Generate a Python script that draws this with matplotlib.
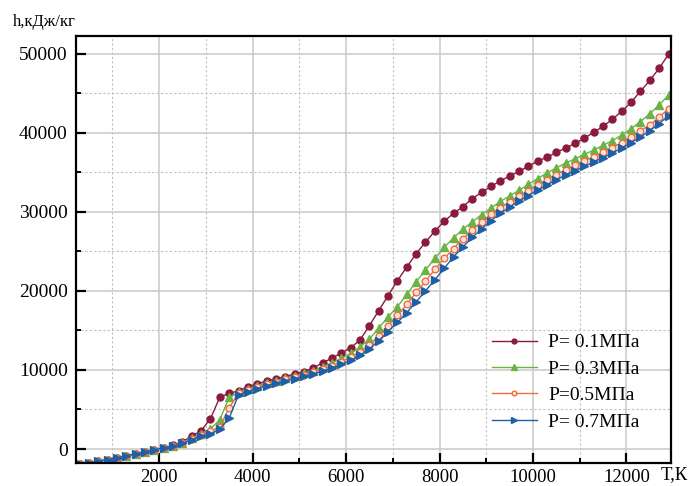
import matplotlib
matplotlib.use("Agg")
import matplotlib.pyplot as plt
from matplotlib.ticker import MultipleLocator

plt.rcParams['font.family'] = ['Liberation Serif', 'DejaVu Serif']

# Temperature grid, K
T = [300, 500, 700, 900, 1100, 1300, 1500, 1700, 1900, 2100,
     2300, 2500, 2700, 2900, 3100, 3300, 3500, 3700, 3900, 4100,
     4300, 4500, 4700, 4900, 5100, 5300, 5500, 5700, 5900, 6100,
     6300, 6500, 6700, 6900, 7100, 7300, 7500, 7700, 7900, 8100,
     8300, 8500, 8700, 8900, 9100, 9300, 9500, 9700, 9900, 10100,
     10300, 10500, 10700, 10900, 11100, 11300, 11500, 11700, 11900, 12100,
     12300, 12500, 12700, 12900]

# Enthalpy h, kJ/kg, for each pressure
h_01 = [-1950, -1730, -1550, -1330, -1100, -850, -600, -340, -90, 160,
        450, 900, 1650, 2300, 3850, 6550, 7050, 7350, 7900, 8250,
        8600, 8900, 9150, 9500, 9800, 10250, 10900, 11500, 12150, 12800,
        13800, 15600, 17500, 19400, 21300, 23000, 24700, 26150, 27550, 28800,
        29800, 30650, 31650, 32450, 33200, 33900, 34500, 35100, 35750, 36400,
        36900, 37500, 38050, 38650, 39300, 40050, 40800, 41700, 42700, 43850,
        45250, 46600, 48150, 49900]

h_03 = [-1950, -1730, -1550, -1330, -1100, -850, -600, -340, -90, 160,
        400, 800, 1350, 1950, 2550, 3700, 6550, 7150, 7600, 8000,
        8350, 8650, 8950, 9250, 9550, 9900, 10400, 10900, 11450, 12100,
        12900, 13900, 15300, 16700, 18000, 19550, 21150, 22650, 24100, 25500,
        26700, 27800, 28700, 29650, 30450, 31300, 32000, 32700, 33450, 34200,
        34900, 35550, 36150, 36700, 37250, 37800, 38400, 39000, 39700, 40500,
        41400, 42400, 43500, 44750]

h_05 = [-1950, -1730, -1550, -1330, -1100, -850, -600, -340, -90, 160,
        380, 750, 1250, 1800, 2250, 2800, 5200, 7050, 7450, 7850,
        8200, 8500, 8800, 9100, 9400, 9700, 10100, 10550, 11050, 11600,
        12300, 13150, 14300, 15600, 16900, 18300, 19800, 21200, 22700, 24100,
        25350, 26600, 27700, 28700, 29700, 30500, 31250, 31950, 32650, 33350,
        34050, 34700, 35300, 35850, 36400, 36950, 37500, 38100, 38750, 39450,
        40200, 41000, 41950, 43050]

h_07 = [-1950, -1730, -1550, -1330, -1100, -850, -600, -340, -90, 160,
        360, 700, 1150, 1650, 1900, 2550, 3900, 6850, 7250, 7650,
        8000, 8300, 8600, 8900, 9200, 9500, 9850, 10250, 10700, 11200,
        11850, 12650, 13700, 14850, 16000, 17250, 18600, 20000, 21400, 22850,
        24300, 25550, 26750, 27850, 28850, 29800, 30600, 31350, 32050, 32750,
        33400, 34050, 34650, 35200, 35750, 36300, 36850, 37450, 38050, 38750,
        39450, 40250, 41150, 42150]

labels = ['P= 0.1MПa', 'P= 0.3MПa', 'P=0.5MПa', 'P= 0.7MПa']
x_ticks = [2000, 4000, 6000, 8000, 10000, 12000]
y_ticks = [0, 10000, 20000, 30000, 40000, 50000]

fig = plt.figure(figsize=(6.88, 4.86), dpi=100)
ax = fig.add_axes([0.1105, 0.0473, 0.8648, 0.8786])

styles = [
    dict(color='#8b1a3c', marker='o', ms=5, mfc='#8b1a3c', mec='#8b1a3c'),
    dict(color='#6ab345', marker='^', ms=5.5, mfc='#6ab345', mec='#6ab345'),
    dict(color='#f26b3a', marker='o', ms=4.8, mfc='#fde3d6', mec='#f26b3a'),
    dict(color='#1f5fa6', marker='>', ms=5.5, mfc='#1f5fa6', mec='#1f5fa6'),
]
for h, lab, st in zip([h_01, h_03, h_05, h_07], labels, styles):
    ax.plot(T, h, lw=1.0, label=lab, **st)

ax.set_xlim(223, 12953)
ax.set_ylim(-1770, 52220)

ax.set_xticks(x_ticks)
ax.set_yticks(y_ticks)
ax.xaxis.set_minor_locator(MultipleLocator(1000))
ax.yaxis.set_minor_locator(MultipleLocator(5000))

ax.grid(which='major', color='#c9c9c9', lw=1.1, ls='-')
ax.grid(which='minor', color='#c0c0c0', lw=0.8, ls=(0, (2, 2)))
ax.set_axisbelow(True)

for sp in ax.spines.values():
    sp.set_linewidth(1.6)
    sp.set_color('black')

ax.tick_params(which='major', direction='in', length=7, width=1.6,
               labelsize=14, top=False, right=False)
ax.tick_params(which='minor', direction='in', length=3.5, width=1.4,
               top=False, right=False)
ax.tick_params(axis='y', pad=6)
ax.tick_params(axis='x', pad=4, labelsize=13.5)

fig.text(44 / 688, 1 - 22 / 486, 'h,кДж/кг', fontsize=12,
         ha='center', va='center')
fig.text(674 / 688, 1 - 475 / 486, 'T,К', fontsize=13.5,
         ha='center', va='center')

leg = ax.legend(loc='lower right', bbox_to_anchor=(0.977, 0.035),
                frameon=False, fontsize=14, handlelength=2.3,
                handletextpad=0.6, labelspacing=0.45, markerscale=0.7)

fig.savefig('out.png', dpi=100)
